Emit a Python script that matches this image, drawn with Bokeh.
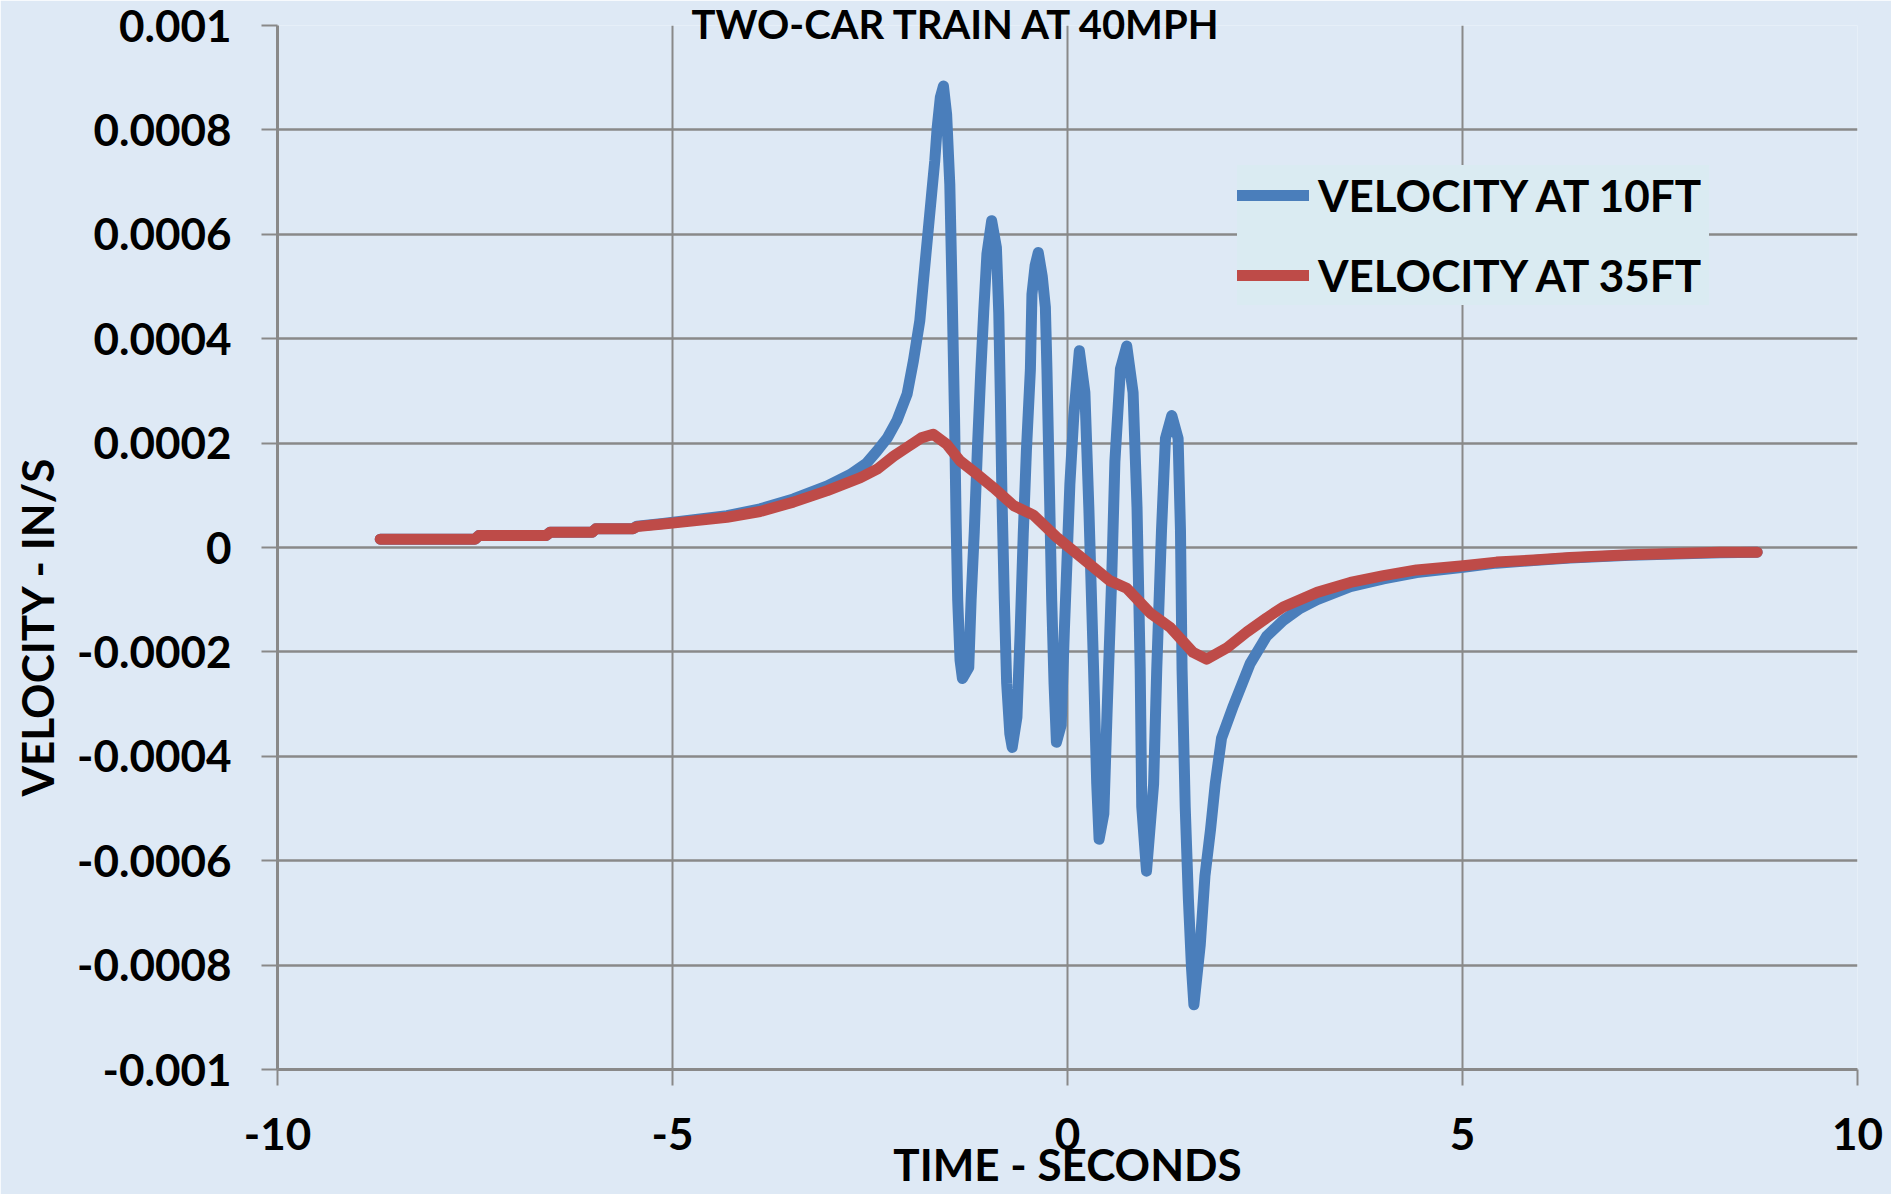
from bokeh.plotting import figure
from bokeh.models import (Range1d, FixedTicker, Legend, LegendItem, Title)
from bokeh.embed import file_html
from bokeh.resources import INLINE

# ---------------- data (time in s, velocity in units of 1e-4 in/s) -------------
t_35 = [-8.70, -7.50, -7.45, -6.60, -6.55, -6.02, -5.97, -5.50, -5.45, -5.12,
        -4.73, -4.31, -3.89, -3.47, -3.04, -2.62, -2.41, -2.20, -2.03, -1.85,
        -1.70, -1.53, -1.36, -1.15, -0.94, -0.68, -0.43, -0.14, 0.20, 0.54,
        0.75, 1.05, 1.30, 1.59, 1.76, 2.02, 2.27, 2.52, 2.73, 3.16,
        3.58, 4.00, 4.42, 5.01, 5.43, 5.90, 6.36, 7.12, 8.26, 8.73]
v_35 = [0.16, 0.16, 0.23, 0.23, 0.29, 0.29, 0.36, 0.36, 0.40, 0.45,
        0.51, 0.58, 0.69, 0.87, 1.09, 1.34, 1.50, 1.75, 1.92, 2.10,
        2.17, 1.98, 1.66, 1.41, 1.15, 0.80, 0.62, 0.20, -0.22, -0.64,
        -0.78, -1.26, -1.53, -2.01, -2.14, -1.92, -1.62, -1.35, -1.14, -0.86,
        -0.67, -0.54, -0.43, -0.35, -0.28, -0.24, -0.19, -0.14, -0.09, -0.09]

t_10 = [-8.70, -7.50, -7.45, -6.60, -6.55, -6.02, -5.97, -5.50, -5.45, -5.12,
        -4.73, -4.31, -3.89, -3.47, -3.04, -2.75, -2.54, -2.41, -2.28, -2.16,
        -2.03, -1.95, -1.87, -1.82, -1.76, -1.72, -1.68, -1.65, -1.61, -1.57,
        -1.53, -1.49, -1.46, -1.43, -1.41, -1.39, -1.36, -1.33, -1.25, -1.22,
        -1.18, -1.14, -1.10, -1.06, -1.02, -0.96, -0.90, -0.87, -0.85, -0.83,
        -0.80, -0.77, -0.73, -0.70, -0.64, -0.60, -0.56, -0.52, -0.47, -0.45,
        -0.41, -0.37, -0.32, -0.28, -0.26, -0.23, -0.20, -0.17, -0.14, -0.08,
        -0.04, 0.00, 0.03, 0.08, 0.15, 0.22, 0.27, 0.33, 0.37, 0.40,
        0.46, 0.50, 0.56, 0.60, 0.67, 0.75, 0.83, 0.88, 0.92, 0.94,
        1.00, 1.09, 1.13, 1.19, 1.24, 1.32, 1.40, 1.43, 1.45, 1.49,
        1.53, 1.57, 1.60, 1.68, 1.74, 1.81, 1.87, 1.95, 2.10, 2.31,
        2.52, 2.73, 2.94, 3.16, 3.58, 4.00, 4.42, 5.01, 5.43, 5.90,
        6.36, 7.12, 8.26, 8.73]
v_10 = [0.16, 0.16, 0.23, 0.23, 0.29, 0.29, 0.36, 0.36, 0.41, 0.46,
        0.53, 0.61, 0.74, 0.93, 1.18, 1.40, 1.62, 1.85, 2.10, 2.43,
        2.94, 3.58, 4.34, 5.17, 6.13, 6.77, 7.41, 8.04, 8.62, 8.84,
        8.30, 6.96, 4.85, 2.50, 0.50, -1.00, -2.16, -2.51, -2.30, -1.00,
        0.30, 1.90, 3.30, 4.53, 5.62, 6.26, 5.75, 4.50, 2.90, 1.00,
        -1.00, -2.60, -3.57, -3.83, -3.25, -1.65, 0.26, 1.86, 3.40, 4.85,
        5.40, 5.65, 5.20, 4.60, 3.40, 1.20, -1.01, -2.61, -3.73, -3.40,
        -1.60, 0.00, 1.21, 2.53, 3.77, 2.97, 0.77, -2.32, -4.53, -5.59,
        -5.10, -3.20, -0.56, 1.65, 3.42, 3.86, 2.97, 0.77, -2.32, -4.97,
        -6.20, -4.53, -2.32, 0.33, 2.09, 2.53, 2.09, 0.33, -2.32, -4.97,
        -6.73, -8.06, -8.76, -7.62, -6.29, -5.41, -4.53, -3.65, -3.03, -2.23,
        -1.70, -1.40, -1.17, -1.00, -0.75, -0.60, -0.48, -0.38, -0.30, -0.25,
        -0.20, -0.15, -0.10, -0.09]

x_ticks = [-10, -5, 0, 5, 10]
y_ticks = [-0.001, -0.0008, -0.0006, -0.0004, -0.0002, 0.0, 0.0002, 0.0004, 0.0006, 0.0008, 0.001]
y_tick_labels = ["-0.001", "-0.0008", "-0.0006", "-0.0004", "-0.0002", "0",
                 "0.0002", "0.0004", "0.0006", "0.0008", "0.001"]
series_names = ["VELOCITY AT 10FT", "VELOCITY AT 35FT"]
title_text = "TWO-CAR TRAIN AT 40MPH"
x_title = "TIME - SECONDS"
y_title = "VELOCITY - IN/S"

scale = 1e-4
v10 = [v * scale for v in v_10]
v35 = [v * scale for v in v_35]

# ---------------- styling ----------------
BG = "#DEE9F5"
GRID = "#898989"
BLUE = "#4A7EBB"
RED = "#BE4B48"
FONT = "Lato"

p = figure(width=1891, height=1194, output_backend="svg", toolbar_location=None,
           x_range=Range1d(-10, 10), y_range=Range1d(-0.001, 0.001),
           min_border_left=277, min_border_right=34, min_border_top=25,
           min_border_bottom=125)
# chart title: squeezed into the thin band above the frame
p.title.text = title_text
p.title.align = "left"
p.title.vertical_align = "bottom"
p.title.offset = 414
p.title.standoff = -44
p.title.text_font = FONT
p.title.text_font_style = "bold"
p.title.text_font_size = "40px"
p.title.text_color = "black"

p.background_fill_color = BG
p.border_fill_color = BG
p.outline_line_color = None

p.xaxis.ticker = FixedTicker(ticks=x_ticks)
p.yaxis.ticker = FixedTicker(ticks=y_ticks)
p.yaxis.major_label_overrides = {t: s for t, s in zip(y_ticks, y_tick_labels)}
p.xaxis.major_label_overrides = {t: str(t) for t in x_ticks}

for ax in (p.xaxis[0], p.yaxis[0]):
    ax.axis_line_color = GRID
    ax.axis_line_width = 3
    ax.major_tick_line_color = GRID
    ax.major_tick_line_width = 2
    ax.major_tick_out = 16
    ax.major_tick_in = 0
    ax.minor_tick_line_color = None
    ax.major_label_text_font = FONT
    ax.major_label_text_font_style = "bold"
    ax.major_label_text_font_size = "44px"
    ax.major_label_text_color = "black"
    ax.axis_label_text_font = FONT
    ax.axis_label_text_font_style = "bold"
    ax.axis_label_text_font_size = "44px"
    ax.axis_label_text_color = "black"
p.yaxis.major_label_standoff = 30
p.xaxis.major_label_standoff = 32
p.xaxis.axis_label = x_title
p.xaxis.axis_label_standoff = -15

# y title as a left-side title so it can be shifted along the axis
ytitle = Title(text=y_title, align="left", vertical_align="top", offset=273, standoff=20,
               text_font=FONT, text_font_style="bold", text_font_size="44px",
               text_color="black")
p.add_layout(ytitle, "left")

p.xgrid.grid_line_color = GRID
p.xgrid.grid_line_width = 2
p.ygrid.grid_line_color = GRID
p.ygrid.grid_line_width = 2.5

r10 = p.line(t_10, v10, line_color=BLUE, line_width=11, line_join="round", line_cap="round")
r35 = p.line(t_35, v35, line_color=RED, line_width=11, line_join="round", line_cap="round")

legend = Legend(items=[LegendItem(label=series_names[0], renderers=[r10]),
                       LegendItem(label=series_names[1], renderers=[r35])],
                location=(960, 764), orientation="vertical",
                background_fill_color="#DAEBF2", background_fill_alpha=1.0,
                border_line_color=None, padding=12, spacing=20, margin=0,
                glyph_width=72, glyph_height=60, label_height=60, label_width=391,
                label_standoff=9,
                label_text_font=FONT, label_text_font_style="bold",
                label_text_font_size="44px", label_text_color="black")
p.add_layout(legend, "center")

open("out.html", "w").write(file_html(p, INLINE))
